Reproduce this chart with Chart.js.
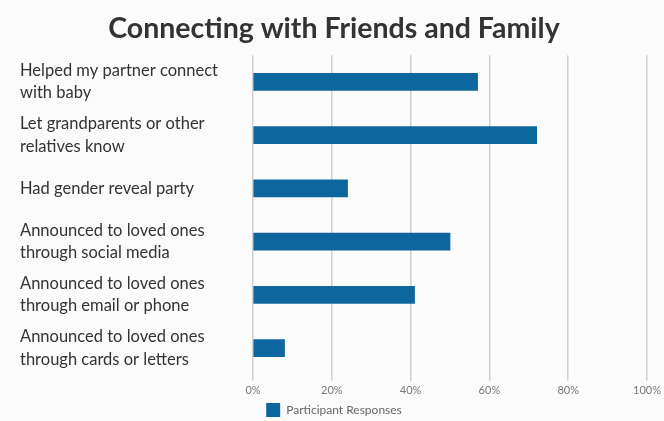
<!DOCTYPE html>
<html>
<head>
<meta charset="utf-8">
<script src="https://cdn.jsdelivr.net/npm/chart.js@4"></script>
<style>
  html, body { margin: 0; padding: 0; background: #fbfbfc; }
  #wrap { width: 664px; height: 421px; }
</style>
</head>
<body>
<div id="wrap"><canvas id="friendsChart"></canvas></div>
<script>
const categories = [
    ['Helped my partner connect', 'with baby'],
    ['Let grandparents or other', 'relatives know'],
    'Had gender reveal party',
    ['Announced to loved ones', 'through social media'],
    ['Announced to loved ones', 'through email or phone'],
    ['Announced to loved ones', 'through cards or letters']
];
const responses = [57, 72, 24, 50, 41, 8];
const tickLabels = ['0%', '20%', '40%', '60%', '80%', '100%'];

const ctx = document.getElementById('friendsChart').getContext('2d');
const friendsChart = new Chart(ctx, {
    type: 'bar',
    data: {
        labels: categories,
        datasets: [{
            label: 'Participant Responses',
            data: responses,
            backgroundColor: '#0d669e',
            barThickness: 17
        }]
    },
    options: {
        indexAxis: 'y',
        responsive: true,
        maintainAspectRatio: false,
        animation: false,
        layout: { padding: { left: 20, right: 16, top: 0, bottom: -6 } },
        plugins: {
            title: {
                display: true,
                text: 'Connecting with Friends and Family',
                color: '#333',
                font: { family: 'Lato', size: 28.5, weight: 'bold' },
                padding: { top: 12, bottom: 9 }
            },
            legend: {
                position: 'bottom',
                labels: {
                    boxWidth: 14,
                    boxHeight: 14,
                    padding: 3,
                    color: '#666',
                    font: { family: 'Lato', size: 12 }
                }
            },
            tooltip: { enabled: false }
        },
        scales: {
            x: {
                min: 0,
                max: 100,
                ticks: {
                    stepSize: 20,
                    padding: 3,
                    color: '#777',
                    font: { family: 'Lato', size: 11 },
                    callback: (v, i) => tickLabels[i]
                },
                grid: { color: '#cfcfcf', lineWidth: 1.5, tickLength: 6 },
                border: { display: false }
            },
            y: {
                afterFit: axis => { axis.width = 233; },
                ticks: {
                    crossAlign: 'far',
                    color: '#333',
                    font: { family: 'Lato', size: 16.5, lineHeight: 1.35 }
                },
                grid: { display: false },
                border: { display: false }
            }
        }
    }
});
</script>
</body>
</html>
